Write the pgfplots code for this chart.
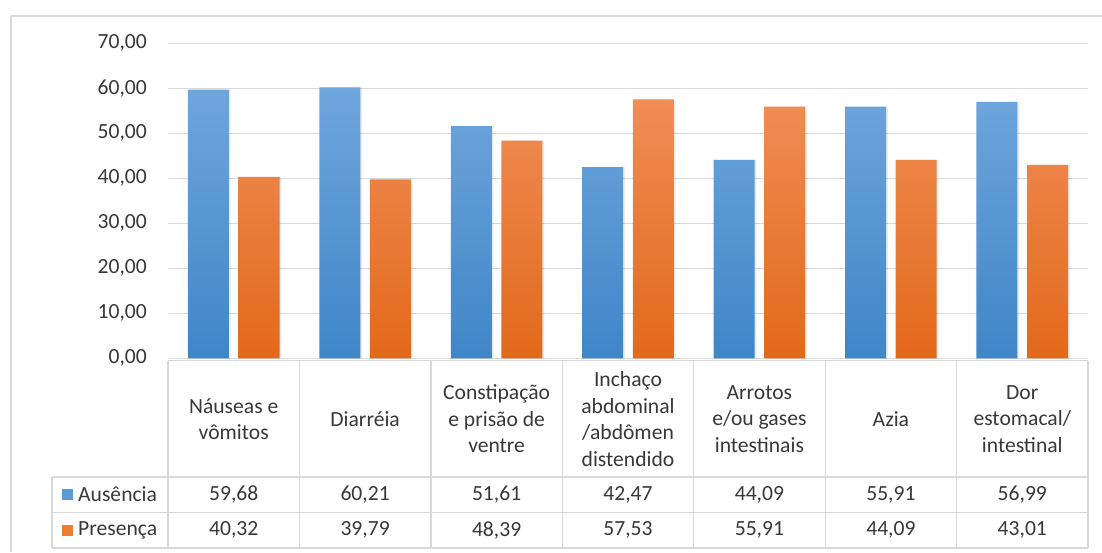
\documentclass[border=0pt]{standalone}
\usepackage{fontspec}
\setmainfont{Carlito}
\usepackage{pgfplots}
\usepackage{pgfplotstable}
\pgfplotsset{compat=1.18}
\definecolor{txt}{HTML}{383838}
\definecolor{grd}{HTML}{D9D9D9}
\definecolor{bluetop}{HTML}{6FA6DC}
\definecolor{bluebot}{HTML}{3F86C8}
\definecolor{bluemid}{HTML}{5B9BD5}
\definecolor{orgtop}{HTML}{F08D55}
\definecolor{orgbot}{HTML}{E2691A}
\definecolor{orgmid}{HTML}{ED7D31}
\pgfplotstableread{
x aus pres
0 59.68 40.32
1 60.21 39.79
2 51.61 48.39
3 42.47 57.53
4 44.09 55.91
5 55.91 44.09
6 56.99 43.01
}\datatab
\begin{document}
\fontsize{21.6}{26.5}\selectfont
\begin{tikzpicture}[x=1pt,y=-1pt]
\path[use as bounding box] (0,0) rectangle (1102,552);
\draw[grd, line width=1.2pt] (11,16) -- (1102,16) (11,16) -- (11,552);
\begin{axis}[
  at={(168pt,-358.3pt)}, anchor=south west,
  scale only axis, width=920pt, height=315pt,
  xmin=-0.5, xmax=6.5, ymin=0, ymax=70,
  ytick={0,10,...,70}, xtick=\empty,
  ymajorgrids, grid style={grd, line width=1.2pt},
  axis line style={draw=none},
  major tick length=0pt,
  /pgf/number format/fixed, /pgf/number format/fixed zerofill,
  /pgf/number format/precision=2, /pgf/number format/use comma,
  /pgf/number format/assume math mode=true,
  tick label style={font=\fontsize{21.6}{25}\selectfont, text=txt},
  yticklabel style={inner sep=0pt, xshift=-21pt},
  clip=false,
]
\addplot[ybar, bar width=41pt, bar shift=-23.5pt, fill=black, opacity=0.08, draw=none] table[x=x, y=aus] {\datatab};
\addplot[ybar, bar width=41pt, bar shift=27.1pt, fill=black, opacity=0.08, draw=none] table[x=x, y=pres] {\datatab};
\addplot[ybar, bar width=41pt, bar shift=-25.3pt, draw=none, top color=bluetop, bottom color=bluebot] table[x=x, y=aus] {\datatab};
\addplot[ybar, bar width=41pt, bar shift=25.3pt, draw=none, top color=orgtop, bottom color=orgbot] table[x=x, y=pres] {\datatab};
\end{axis}
% data table grid
\draw[grd, line width=1.2pt] (168,360.5) -- (1088,360.5);
\draw[grd, line width=1.2pt] (52,477) -- (1088,477) (52,512.5) -- (1088,512.5) (52,548) -- (1088,548);
\draw[grd, line width=1.2pt] (52,477) -- (52,548);
\foreach \xx in {168,299.4,430.9,562.3,693.7,825.1,956.6,1088}
  \draw[grd, line width=1.2pt] (\xx,360.5) -- (\xx,548);
% header labels
\foreach \cx/\lab in {233.7/{Náuseas e\\vômitos}, 365.1/{Diarréia}, 496.6/{Constipação\\e prisão de\\ventre}, 628/{Inchaço\\abdominal\\/abdômen\\distendido}, 759.4/{Arrotos\\e/ou gases\\intestinais}, 890.9/{Azia}, 1022.3/{Dor\\estomacal/\\intestinal}}
  \node[text=txt, align=center, inner sep=0pt, font=\fontsize{21.6}{26.5}\selectfont] at (\cx,419) {\lab};
% values
\foreach \cx/\va/\vb in {233.7/{59,68}/{40,32}, 365.1/{60,21}/{39,79}, 496.6/{51,61}/{48,39}, 628/{42,47}/{57,53}, 759.4/{44,09}/{55,91}, 890.9/{55,91}/{44,09}, 1022.3/{56,99}/{43,01}}
{
  \node[text=txt, inner sep=0pt] at (\cx,494.5) {\va};
  \node[text=txt, inner sep=0pt] at (\cx,530) {\vb};
}
% legend keys
\fill[bluemid] (62,489) rectangle (73,500);
\node[text=txt, anchor=west, inner sep=0pt] at (78,494.5) {Ausência};
\fill[orgmid] (62,524.5) rectangle (73,535.5);
\node[text=txt, anchor=west, inner sep=0pt] at (78,530) {Presença};
\end{tikzpicture}
\end{document}
